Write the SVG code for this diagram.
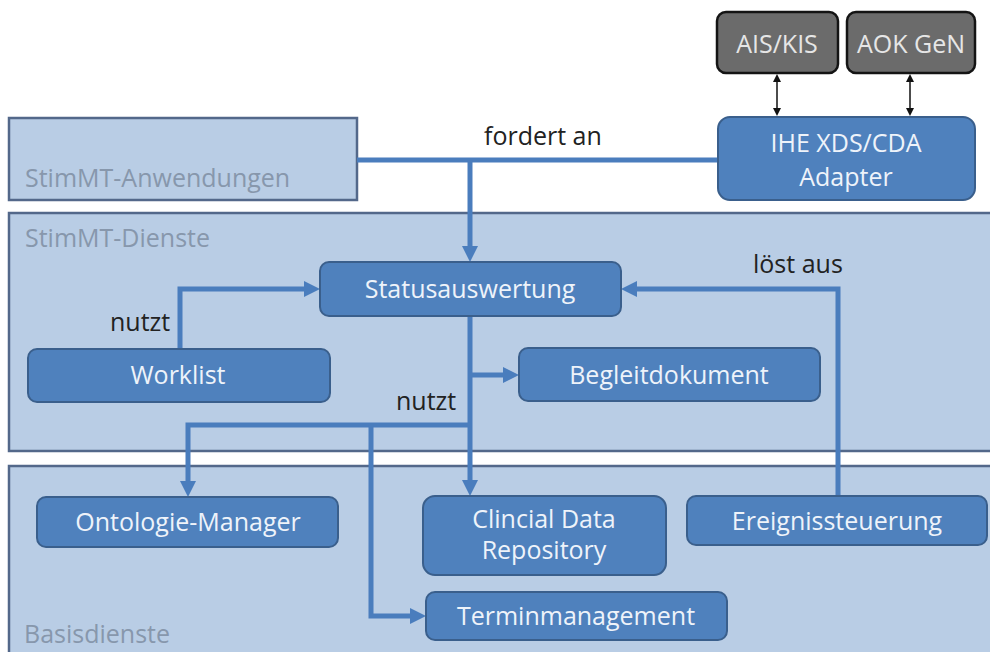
<svg xmlns="http://www.w3.org/2000/svg" width="990" height="652" viewBox="0 0 990 652">
  <defs>
    <style>
      .layer { fill: #b9cde5; stroke: #53688a; stroke-width: 2.5; }
      .layer-label { font-family: "Open Sans", "Liberation Sans", sans-serif; font-size: 25px; fill: #8797ac; }
      .node { fill: #4f81bd; stroke: #3a5f8c; stroke-width: 2; }
      .node-label { font-family: "Open Sans", "Liberation Sans", sans-serif; font-size: 25px; fill: #eef3fa; text-anchor: middle; }
      .ext { fill: #6b6b6b; stroke: #141414; stroke-width: 2.5; }
      .ext-label { font-family: "Open Sans", "Liberation Sans", sans-serif; font-size: 25px; fill: #e6e6e6; text-anchor: middle; }
      .edge { fill: none; stroke: #4a7dbd; stroke-width: 5; }
      .edge-thin { fill: none; stroke: #111111; stroke-width: 1.5; }
      .edge-label { font-family: "Open Sans", "Liberation Sans", sans-serif; font-size: 25px; fill: #222222; }
    </style>
    <marker id="arrow" viewBox="0 0 16 16" refX="1" refY="8" markerWidth="16" markerHeight="16" markerUnits="userSpaceOnUse" orient="auto">
      <path d="M0,0 L16,8 L0,16 z" fill="#4a7dbd"/>
    </marker>
    <marker id="arrow-small" viewBox="0 0 8 8" refX="1" refY="4" markerWidth="8" markerHeight="8" markerUnits="userSpaceOnUse" orient="auto-start-reverse">
      <path d="M0,0 L8,4 L0,8 z" fill="#111111"/>
    </marker>
  </defs>

  <rect width="990" height="652" fill="#ffffff"/>

  <!-- layers -->
  <g id="layer-anwendungen">
    <rect class="layer" x="9" y="118" width="348" height="82"/>
    <text class="layer-label" x="25" y="187">StimMT-Anwendungen</text>
  </g>
  <g id="layer-dienste">
    <rect class="layer" x="9" y="213" width="990" height="238"/>
    <text class="layer-label" x="25" y="247">StimMT-Dienste</text>
  </g>
  <g id="layer-basis">
    <rect class="layer" x="9" y="466" width="990" height="200"/>
    <text class="layer-label" x="24" y="643">Basisdienste</text>
  </g>

  <!-- connectors -->
  <g id="connectors">
    <path class="edge" d="M357,160 H718"/>
    <path class="edge" d="M470,160 V247" marker-end="url(#arrow)"/>
    <path class="edge" d="M180,349 V289 H305" marker-end="url(#arrow)"/>
    <path class="edge" d="M470,316 V481" marker-end="url(#arrow)"/>
    <path class="edge" d="M470,375 H504" marker-end="url(#arrow)"/>
    <path class="edge" d="M470,425 H188 V482" marker-end="url(#arrow)"/>
    <path class="edge" d="M371,425 V616 H411" marker-end="url(#arrow)"/>
    <path class="edge" d="M838,496 V289 H636" marker-end="url(#arrow)"/>
    <path class="edge-thin" d="M777,81 V109" marker-start="url(#arrow-small)" marker-end="url(#arrow-small)"/>
    <path class="edge-thin" d="M910,81 V109" marker-start="url(#arrow-small)" marker-end="url(#arrow-small)"/>
    <text class="edge-label" x="484" y="145">fordert an</text>
    <text class="edge-label" x="110" y="331">nutzt</text>
    <text class="edge-label" x="396" y="410">nutzt</text>
    <text class="edge-label" x="753" y="273">löst aus</text>
  </g>

  <!-- external systems -->
  <g id="ais-kis">
    <rect class="ext" x="717" y="12" width="121" height="61" rx="9"/>
    <text class="ext-label" x="777" y="53">AIS/KIS</text>
  </g>
  <g id="aok-gen">
    <rect class="ext" x="847" y="12" width="128" height="61" rx="9"/>
    <text class="ext-label" x="911" y="53">AOK GeN</text>
  </g>
  <g id="ihe-adapter">
    <rect class="node" x="718" y="117" width="257" height="83" rx="12"/>
    <text class="node-label" x="846" y="152">IHE XDS/CDA</text>
    <text class="node-label" x="846" y="186">Adapter</text>
  </g>

  <!-- services -->
  <g id="statusauswertung">
    <rect class="node" x="320" y="262" width="301" height="54" rx="9"/>
    <text class="node-label" x="470" y="298">Statusauswertung</text>
  </g>
  <g id="worklist">
    <rect class="node" x="28" y="349" width="302" height="53" rx="9"/>
    <text class="node-label" x="178" y="384">Worklist</text>
  </g>
  <g id="begleitdokument">
    <rect class="node" x="519" y="348" width="301" height="53" rx="9"/>
    <text class="node-label" x="669" y="384">Begleitdokument</text>
  </g>

  <!-- base services -->
  <g id="ontologie-manager">
    <rect class="node" x="37" y="497" width="301" height="50" rx="9"/>
    <text class="node-label" x="188" y="531">Ontologie-Manager</text>
  </g>
  <g id="clinical-data-repository">
    <rect class="node" x="423" y="496" width="243" height="79" rx="12"/>
    <text class="node-label" x="544" y="528">Clincial Data</text>
    <text class="node-label" x="544" y="559">Repository</text>
  </g>
  <g id="ereignissteuerung">
    <rect class="node" x="687" y="496" width="300" height="49" rx="9"/>
    <text class="node-label" x="837" y="530">Ereignissteuerung</text>
  </g>
  <g id="terminmanagement">
    <rect class="node" x="426" y="592" width="301" height="48" rx="9"/>
    <text class="node-label" x="576" y="625">Terminmanagement</text>
  </g>
</svg>
